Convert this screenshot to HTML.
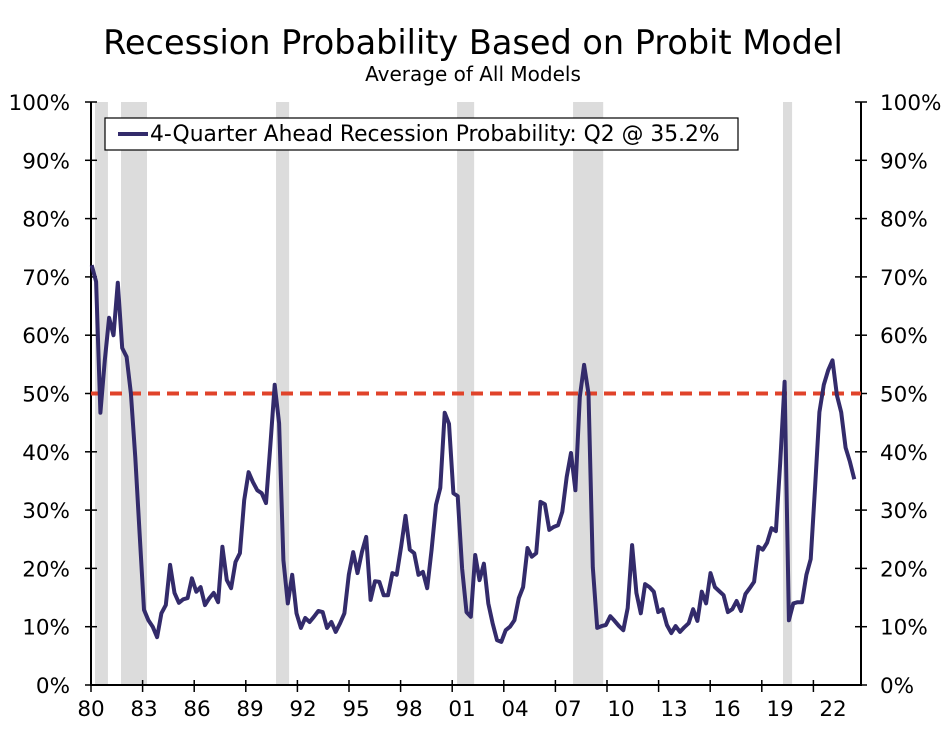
<!DOCTYPE html>
<html><head><meta charset="utf-8"><style>
body{margin:0;background:#fff}
svg text{font-family:"DejaVu Sans","Liberation Sans",sans-serif;fill:#000}
</style></head><body>
<svg width="947" height="727" viewBox="0 0 947 727">
<text x="473" y="54" font-size="33.5" text-anchor="middle">Recession Probability Based on Probit Model</text>
<text x="473" y="81" font-size="20" text-anchor="middle">Average of All Models</text>
<g id="bands"></g>
<g id="axes"></g>
<g id="series"></g>
<g>
<rect x="105" y="118" width="633" height="32" fill="#fff" stroke="#000" stroke-width="1.2"/>
<line x1="118" y1="134" x2="148" y2="134" stroke="#332b6b" stroke-width="4"/>
<text x="150" y="141" font-size="21.8">4-Quarter Ahead Recession Probability: Q2 @ 35.2%</text>
</g>
</svg>
<script>
const values=[72,69.2,46.7,55.7,63,60,69,57.8,56.3,50,39,26,12.9,11.1,10,8.2,12.3,13.7,20.6,15.8,14.1,14.7,14.9,18.3,16,16.8,13.7,14.9,15.8,14.2,23.7,18,16.6,21.1,22.6,31.7,36.5,34.8,33.4,32.9,31.2,41.2,51.5,44.9,21.4,14,18.9,12.3,9.8,11.5,10.8,11.7,12.7,12.5,9.8,10.8,9.1,10.6,12.3,18.9,22.8,19.2,22.8,25.4,14.6,17.8,17.7,
15.4,15.4,19.2,18.9,23.7,29,23.2,22.6,18.9,19.4,16.6,23.2,30.9,33.8,46.7,44.8,32.9,32.4,20,12.5,11.7,22.3,18,20.8,14,10.6,7.7,7.4,9.4,10,11.1,14.9,16.8,23.5,22,22.6,31.4,31,26.6,27.1,27.4,29.7,35.7,39.8,33.4,49.4,54.9,50,20.2,9.8,10.1,10.3,11.8,11,10.1,9.4,13.2,24,15.8,
12.3,17.3,16.8,16,12.5,13,10.3,8.9,10.1,9.1,9.9,10.6,13,11,16,14,19.2,16.8,16.1,15.4,12.5,13,14.4,12.7,15.6,16.6,17.7,23.7,23.2,24.4,26.9,26.4,38.1,52,11.1,14,14.2,14.2,18.9,21.6,34,46.8,51.5,54,55.7,49.7,46.8,40.7,38.3,35.3];
const recessions=[[1980.19,1980.93],[1981.68,1983.17],[1990.57,1991.32],[2000.95,2001.93],[2007.6,2009.33],[2019.64,2020.16]];
const yTicks=[0,10,20,30,40,50,60,70,80,90,100];
const xLabels=["80","83","86","89","92","95","98","01","04","07","10","13","16","19","22"];
const threshold=50;
const NS="http://www.w3.org/2000/svg";
const L=91,R=861,T=102,B=685;
const y=v=>B-(v/100)*(B-T);
const xi=i=>91.7+i*(854.3-91.7)/(values.length-1);
const xy=yr=>91.7+(yr-1980)*17.44;
function mk(tag,attrs,parent){const e=document.createElementNS(NS,tag);for(const k in attrs)e.setAttribute(k,attrs[k]);parent.appendChild(e);return e;}
const bands=document.getElementById('bands'),axes=document.getElementById('axes'),series=document.getElementById('series');
recessions.forEach(r=>{const e=mk('rect',{x:xy(r[0]),y:T,width:xy(r[1])-xy(r[0]),height:B-T,fill:'#dcdcdc'},bands);

});
let e=mk('line',{x1:L,y1:T,x2:L,y2:B+1,stroke:'#000','stroke-width':2},axes);


e=mk('line',{x1:R,y1:T,x2:R,y2:B+1,stroke:'#000','stroke-width':2},axes);


e=mk('line',{x1:L,y1:B,x2:R,y2:B,stroke:'#000','stroke-width':2},axes);


yTicks.forEach(v=>{
 mk('line',{x1:L-6,y1:y(v),x2:L+6,y2:y(v),stroke:'#000','stroke-width':1.5},axes);
 mk('line',{x1:R-6,y1:y(v),x2:R+6,y2:y(v),stroke:'#000','stroke-width':1.5},axes);
 let t=mk('text',{x:70,y:y(v)+8,'font-size':21.5,'text-anchor':'end'},axes);t.textContent=v+'%';
 
 
 t=mk('text',{x:880,y:y(v)+8,'font-size':21.5},axes);t.textContent=v+'%';
 
 
});
xLabels.forEach((s,k)=>{
 mk('line',{x1:91+k*51.6,y1:B-5,x2:91+k*51.6,y2:B+7,stroke:'#000','stroke-width':1.5},axes);
 const t=mk('text',{x:91+k*53,y:B+31,'font-size':21.5,'text-anchor':'middle'},axes);t.textContent=s;
 
 
});
e=mk('line',{x1:L,y1:y(threshold),x2:R,y2:y(threshold),stroke:'#e0432a','stroke-width':4,'stroke-dasharray':'12 7'},series);


e=mk('polyline',{points:values.map((v,i)=>xi(i).toFixed(1)+','+y(v).toFixed(1)).join(' '),fill:'none',stroke:'#332b6b','stroke-width':4,'stroke-linejoin':'round'},series);


</script>
</body></html>
